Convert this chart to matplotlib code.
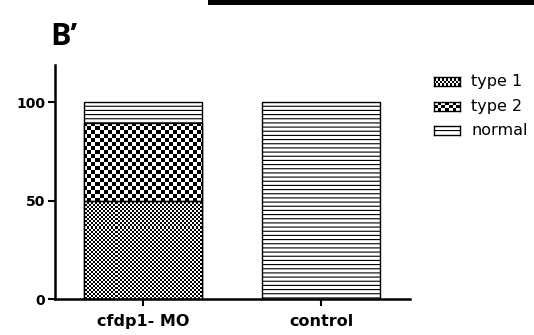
import numpy as np
import matplotlib
matplotlib.use('Agg')
import matplotlib.pyplot as plt
from matplotlib.patches import Rectangle

plt.rcParams['font.family'] = 'DejaVu Sans'
plt.rcParams['hatch.linewidth'] = 0.8

# data
groups = ['cfdp1- MO', 'control']
series = ['type 1', 'type 2', 'normal']
type1 = [50, 0]
type2 = [39.5, 0]
normal = [10.5, 100]
values = [type1, type2, normal]
yticks = [0, 50, 100]

# fill styles: checker square size in pixels, or hatch
styles = {'type 1': ('checker', 2), 'type 2': ('checker', 4), 'normal': ('hatch', '----')}


def checker(rows, cols):
    return (np.indices((rows, cols)).sum(axis=0) % 2).astype(float)


fig = plt.figure(figsize=(5.34, 3.35), dpi=100)
ax = fig.add_axes([0.103, 0.107, 0.665, 0.699])
ax_w_px = 0.665 * 534
ax_h_px = 0.699 * 335

x = np.arange(len(groups))
bottom = np.zeros(len(groups))
for name, vals in zip(series, values):
    kind, param = styles[name]
    bars = ax.bar(x, vals, width=0.663, bottom=bottom, facecolor='white',
                  edgecolor='black', linewidth=1.0,
                  hatch=param if kind == 'hatch' else None, zorder=2)
    if kind == 'checker':
        img = checker(int(ax_h_px / param), int(ax_w_px / param))
        for b, v in zip(bars, vals):
            if v <= 0:
                continue
            im = ax.imshow(img, cmap='gray_r', vmin=0, vmax=1, interpolation='nearest',
                           extent=(0, 1, 0, 1), transform=ax.transAxes,
                           aspect='auto', zorder=2.5)
            im.set_clip_path(b)
            # outline back on top of the texture
            ax.add_patch(Rectangle(b.get_xy(), b.get_width(), b.get_height(),
                                   fill=False, edgecolor='black', linewidth=1.0, zorder=3))
    bottom = bottom + np.array(vals)

ax.set_xlim(-0.494, 1.5)
ax.set_ylim(0, 119)
ax.set_yticks(yticks)
ax.set_xticks(x)
ax.set_xticklabels(groups, fontsize=11.5, fontweight='bold')
ax.tick_params(axis='y', labelsize=10, width=1.5, length=5, pad=2)
ax.tick_params(axis='x', width=1.5, length=5, pad=6)
for lab in ax.get_yticklabels():
    lab.set_fontweight('bold')
ax.spines['top'].set_visible(False)
ax.spines['right'].set_visible(False)
ax.spines['left'].set_linewidth(1.8)
ax.spines['bottom'].set_linewidth(1.8)

# legend drawn by hand
leg_x, leg_y0, leg_dy = 0.813, 0.757, 0.074
pw, ph = 26 / 534, 9 / 335
for i, name in enumerate(series):
    y = leg_y0 - i * leg_dy
    kind, param = styles[name]
    lax = fig.add_axes([leg_x, y - ph / 2, pw, ph])
    lax.set_xticks([])
    lax.set_yticks([])
    for s in lax.spines.values():
        s.set_linewidth(1.0)
    if kind == 'checker':
        sq = 2 if param == 2 else 3.5
        lax.imshow(checker(int(round(9 / sq)), int(round(26 / sq))), cmap='gray_r', vmin=0, vmax=1,
                   interpolation='nearest', aspect='auto', extent=(0, 1, 0, 1))
    else:
        lax.add_patch(Rectangle((0, 0), 1, 1, facecolor='white', edgecolor='black',
                                linewidth=0, hatch='---'))
        lax.set_xlim(0, 1)
        lax.set_ylim(0, 1)
    fig.text(leg_x + pw + 0.021, y, name, fontsize=11.5, va='center', ha='left')

# panel label and top bar
fig.text(0.094, 0.866, 'B\u2019', fontsize=22, fontweight='bold', va='baseline',
         family='Open Sans')
fig.patches.append(Rectangle((208 / 534, 1 - 5 / 335), 1, 5 / 335, transform=fig.transFigure,
                             facecolor='black', edgecolor='none'))

fig.savefig('out.png', dpi=100, facecolor='white')
